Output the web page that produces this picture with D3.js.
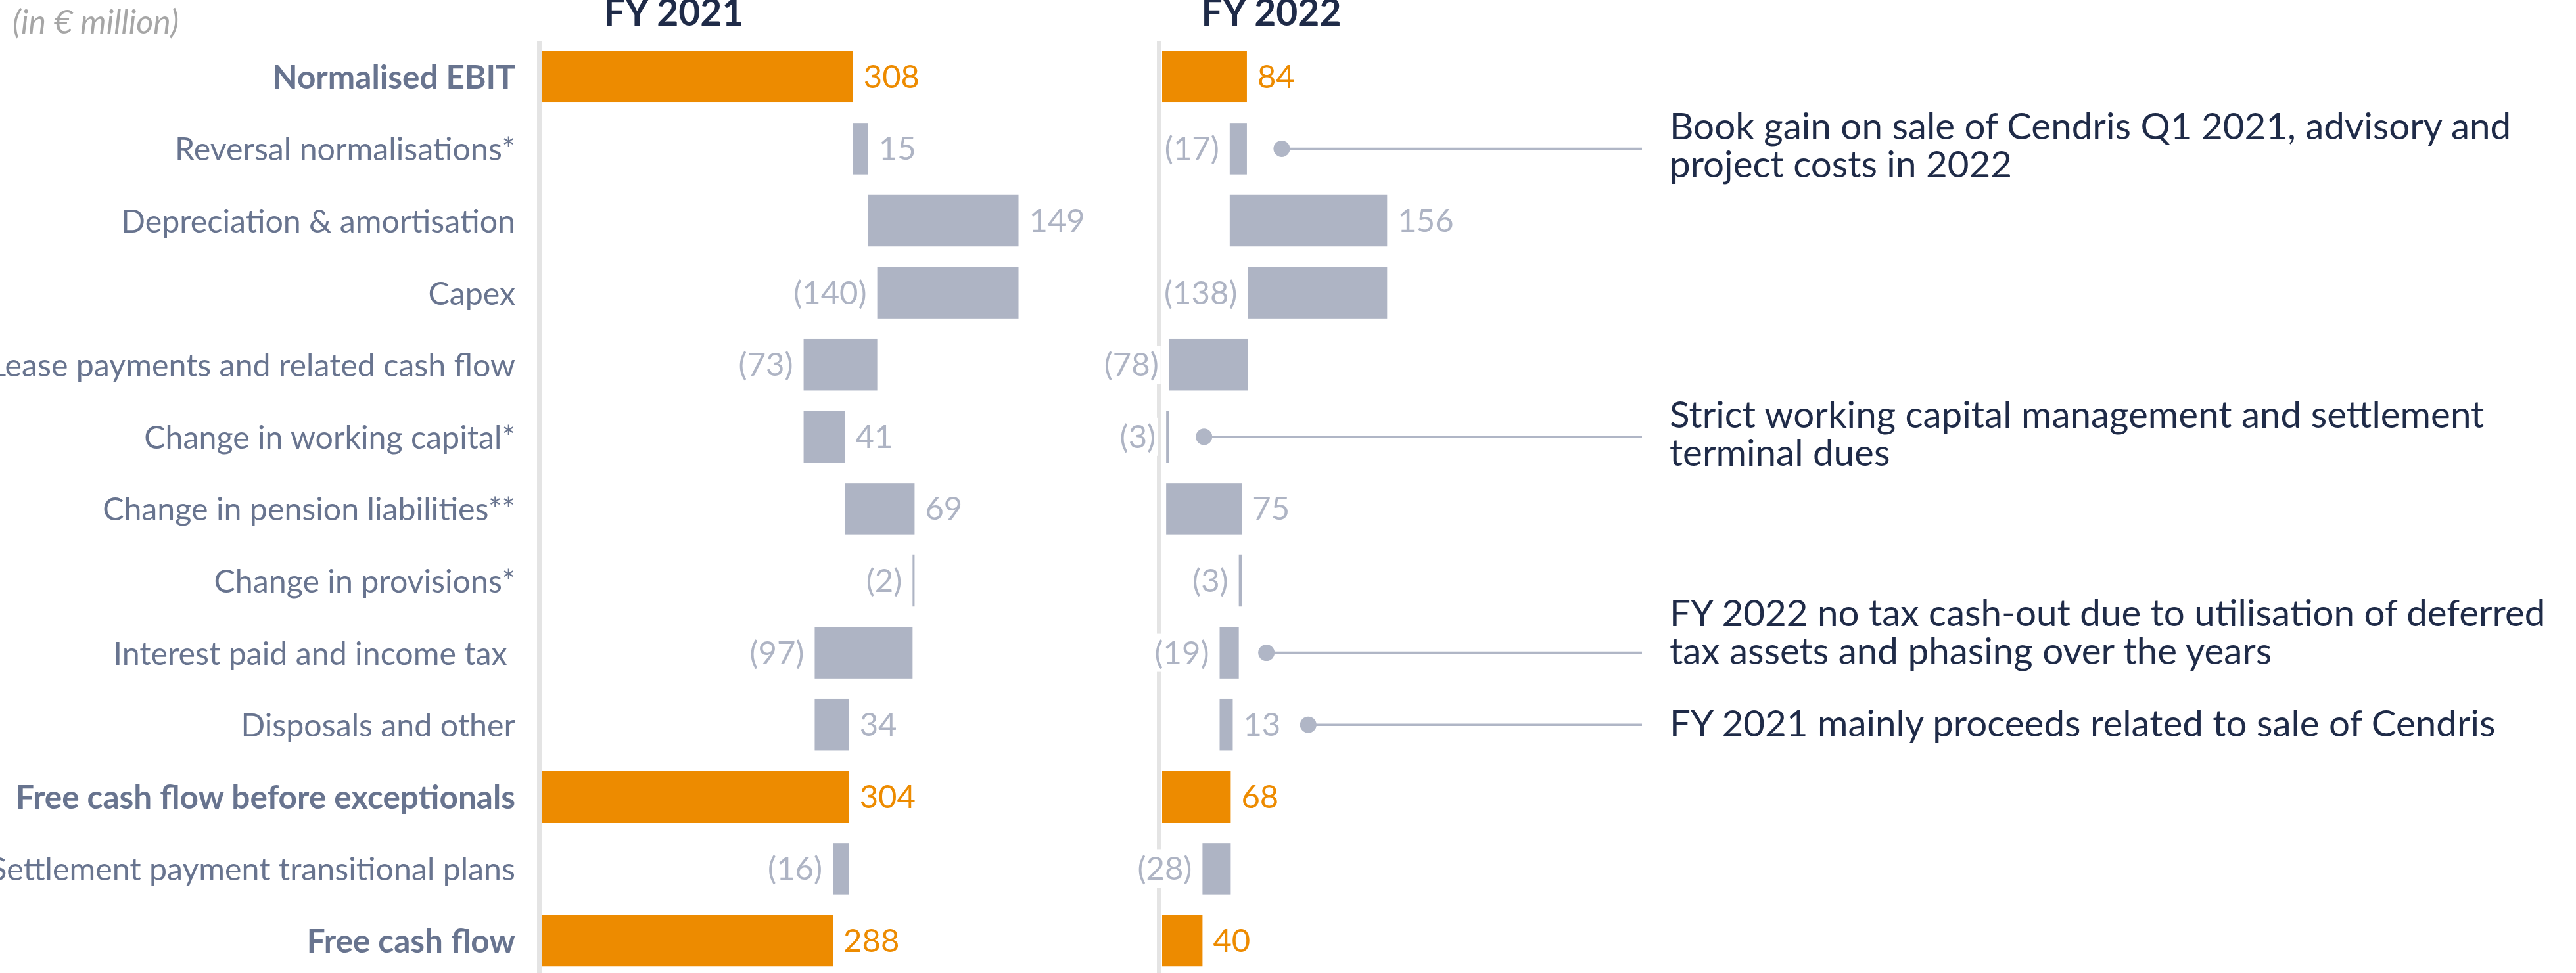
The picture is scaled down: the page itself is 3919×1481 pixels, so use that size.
<!DOCTYPE html>
<html>
<head>
<meta charset="utf-8">
<script src="https://cdn.jsdelivr.net/npm/d3@7"></script>
<style>
  html, body { margin: 0; padding: 0; background: #ffffff; }
  svg { display: block; font-family: Lato, "Open Sans", "Noto Sans", sans-serif; }
</style>
</head>
<body>
<svg id="chart" width="3919" height="1481"></svg>
<script>
// ---------------- DATA ----------------
const categories = [
  "Normalised EBIT",
  "Reversal normalisations*",
  "Depreciation & amortisation",
  "Capex",
  "Lease payments and related cash flow",
  "Change in working capital*",
  "Change in pension liabilities**",
  "Change in provisions*",
  "Interest paid and income tax\u00A0",
  "Disposals and other",
  "Free cash flow before exceptionals",
  "Settlement payment transitional plans",
  "Free cash flow"
];
const rowTypes = ["total","delta","delta","delta","delta","delta","delta","delta","delta","delta","total","delta","total"];
const fy2021 = [308, 15, 149, -140, -73, 41, 69, -2, -97, 34, 304, -16, 288];
const fy2022 = [84, -17, 156, -138, -78, -3, 75, -3, -19, 13, 68, -28, 40];
const panelTitles = ["FY 2021", "FY 2022"];
const unitLabel = "(in € million)";
const annotationRows = [1, 5, 8, 9];
const annotationTexts = [
  ["Book gain on sale of Cendris Q1 2021, advisory and", "project costs in 2022"],
  ["Strict working capital management and settlement", "terminal dues"],
  ["FY 2022 no tax cash-out due to utilisation of deferred", "tax assets and phasing over the years"],
  ["FY 2021 mainly proceeds related to sale of Cendris"]
];

// ---------------- LAYOUT / STYLE ----------------
const W = 3919, H = 1481;
const COL_ORANGE = "#ed8b00";
const COL_GREY = "#aeb4c4";
const COL_LABEL = "#68748f";
const COL_NAVY = "#1f2b48";
const COL_AXIS = "#e4e4e4";
const COL_LEADER = "#b0b6c6";

const panelLayout = [
  { x0: 825, titleX: 1025 },
  { x0: 1768, titleX: 1934 }
];
const annLayout = { lineEnd: 2498, textX: 2540, lineH: 58, firstBaseline: [-14, -14, -41, 18], dotGap: [53, 53, 42, 42] };

const svg = d3.select("#chart");

const y = d3.scaleBand()
  .domain(d3.range(categories.length))
  .range([62, 62 + categories.length * 109.6])
  .paddingInner(0.284)
  .paddingOuter(0.142);
const x = d3.scaleLinear().domain([0, 100]).range([0, 153.5]);
const cy = i => y(i) + y.bandwidth() / 2;
const fmt = v => v < 0 ? `(${Math.abs(v)})` : `${v}`;

function waterfall(values) {
  let cum = 0;
  return values.map((v, i) => {
    let s, e;
    if (rowTypes[i] === "total") { s = 0; e = v; cum = v; }
    else { s = cum; e = cum + v; cum = e; }
    return { i, v, s, e, total: rowTypes[i] === "total" };
  });
}

// unit label
svg.append("text")
  .attr("x", 19).attr("y", 51)
  .attr("font-size", 50).attr("font-style", "italic")
  .attr("fill", "#a6a6a6")
  .text(unitLabel);

// category labels
svg.append("g").selectAll("text")
  .data(categories)
  .join("text")
  .attr("x", 784)
  .attr("y", (d, i) => cy(i) + 18)
  .attr("text-anchor", "end")
  .attr("font-size", (d, i) => rowTypes[i] === "total" ? 49.5 : 48.3)
  .attr("font-weight", (d, i) => rowTypes[i] === "total" ? 700 : 400)
  .attr("fill", COL_LABEL)
  .style("white-space", "pre")
  .text(d => d);

const panelData = [fy2021, fy2022].map(waterfall);

panelData.forEach((rows, p) => {
  const L = panelLayout[p];
  const g = svg.append("g").attr("transform", `translate(${L.x0},0)`);

  // axis line
  g.append("rect")
    .attr("x", -8).attr("width", 7)
    .attr("y", 62).attr("height", H - 62)
    .attr("fill", COL_AXIS);

  // title
  svg.append("text")
    .attr("x", L.titleX).attr("y", 39)
    .attr("text-anchor", "middle")
    .attr("font-size", 57).attr("font-weight", 700)
    .attr("fill", COL_NAVY)
    .text(panelTitles[p]);

  // bars
  g.selectAll("rect.bar")
    .data(rows)
    .join("rect")
    .attr("class", "bar")
    .attr("x", d => x(Math.min(d.s, d.e)))
    .attr("width", d => Math.max(1, Math.abs(x(d.e) - x(d.s))))
    .attr("y", d => y(d.i))
    .attr("height", y.bandwidth())
    .attr("fill", d => d.total ? COL_ORANGE : COL_GREY);

  // labels
  const lg = g.append("g");
  rows.forEach(d => {
    const right = d.total || d.v >= 0;
    const lx = right ? x(Math.max(d.s, d.e)) + 16 : x(Math.min(d.s, d.e)) - 16;
    const bg = lg.append("rect").attr("fill", "#ffffff");
    const t = lg.append("text")
      .attr("x", lx)
      .attr("y", cy(d.i) + 17)
      .attr("text-anchor", right ? "start" : "end")
      .attr("font-size", 49)
      .attr("fill", d.total ? COL_ORANGE : COL_GREY)
      .text(fmt(d.v));
    const w = t.node().getComputedTextLength();
    bg.attr("x", right ? lx - 3 : lx - w - 3)
      .attr("width", w + 6)
      .attr("y", cy(d.i) - 29)
      .attr("height", 58);
    d.labelRight = right ? L.x0 + lx + w : L.x0 + x(Math.max(d.s, d.e));
  });
});

// annotations (attached to FY 2022 panel)
const rows22 = panelData[1];
annotationRows.forEach((r, k) => {
  const d = rows22[r];
  const yc = cy(r);
  const dotX = d.labelRight + annLayout.dotGap[k];
  svg.append("line")
    .attr("x1", dotX).attr("x2", annLayout.lineEnd)
    .attr("y1", yc).attr("y2", yc)
    .attr("stroke", COL_LEADER).attr("stroke-width", 3.5);
  svg.append("circle")
    .attr("cx", dotX).attr("cy", yc).attr("r", 12.5)
    .attr("fill", COL_LEADER);
  const t = svg.append("text")
    .attr("font-size", 56.5)
    .attr("fill", COL_NAVY);
  annotationTexts[k].forEach((line, j) => {
    t.append("tspan")
      .attr("x", annLayout.textX)
      .attr("y", yc + annLayout.firstBaseline[k] + j * annLayout.lineH)
      .text(line);
  });
});
</script>
</body>
</html>
